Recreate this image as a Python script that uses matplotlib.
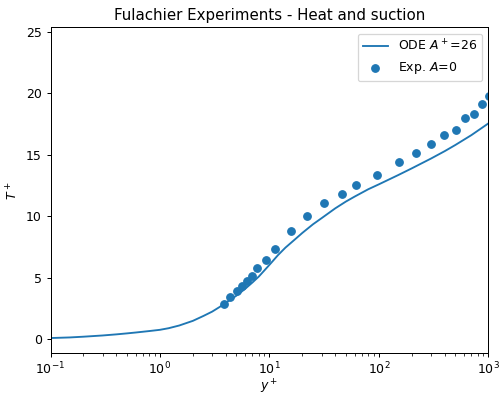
import matplotlib
matplotlib.use('Agg')
import matplotlib.pyplot as plt

# ODE solution
y_ode = [0.1, 0.15, 0.2, 0.3, 0.4, 0.5, 0.6, 0.8, 1.0, 1.2, 1.5, 2.0, 2.5, 3.0,
         3.5, 4.0, 5.0, 6.0, 7.0, 8.0, 9.0, 10.0, 12.0, 14.0, 17.0, 20.0, 25.0,
         30.0, 40.0, 50.0, 60.0, 80.0, 100.0, 150.0, 200.0, 300.0, 400.0, 500.0,
         700.0, 1000.0]
T_ode = [0.1, 0.15, 0.21, 0.31, 0.40, 0.48, 0.55, 0.67, 0.77, 0.9, 1.12, 1.5, 1.9, 2.25,
         2.62, 2.97, 3.55, 4.1, 4.62, 5.1, 5.6, 6.05, 6.85, 7.45, 8.1, 8.65, 9.35,
         9.85, 10.65, 11.2, 11.6, 12.2, 12.6, 13.35, 13.9, 14.7, 15.3, 15.8,
         16.6, 17.55]

# experiment (Fulachier, heat and suction)
y_exp = [3.87, 4.37, 5.03, 5.58, 6.21, 6.89, 7.75, 9.31, 11.25, 15.7, 22.1, 31.7,
         46.3, 61.5, 95.8, 153.8, 217.7, 301.0, 393.7, 510.0, 608.0, 745.0, 871.0, 1009.0]
T_exp = [2.87, 3.44, 3.93, 4.31, 4.74, 5.17, 5.77, 6.42, 7.34, 8.83, 10.02, 11.06,
         11.85, 12.54, 13.33, 14.40, 15.16, 15.90, 16.61, 17.04, 17.97, 18.34, 19.15, 19.76]

fig = plt.figure(figsize=(499/90, 396/90), dpi=90)
ax = fig.add_axes([50.5/499, 1-353.3/396, (488.3-50.5)/499, (353.3-27.3)/396])

ax.semilogx(y_ode, T_ode, label='ODE $A^+$=26')
ax.scatter(y_exp, T_exp, label='Exp. $A$=0')
ax.set_xlim(0.1, 1000)
ax.set_ylim(-1.14, 25.37)
ax.tick_params(axis='x', pad=2.5)
ax.set_xlabel('$y^+$', labelpad=0)
ax.set_ylabel('$T^+$')
ax.set_title('Fulachier Experiments - Heat and suction')
ax.legend(loc='upper right')

fig.savefig('out.png', dpi=90)
